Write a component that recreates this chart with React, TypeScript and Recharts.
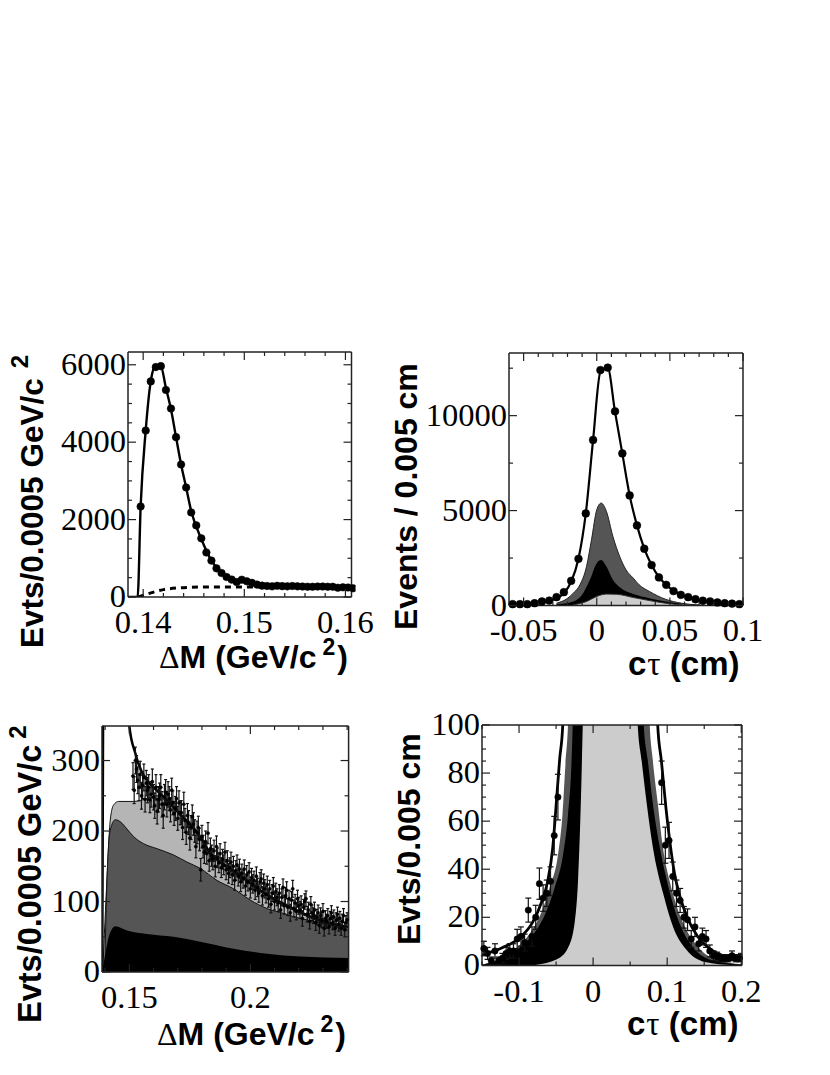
import { ComposedChart, Line, Area, XAxis, YAxis, ErrorBar } from "recharts";

// top left: dM, full range
const aBinValues = [2340, 4300, 5570, 5940, 5965, 5350, 4870, 4130, 3425, 2830, 2185, 1850, 1515, 1150, 940, 740, 620, 516, 450, 387, 447, 405, 365, 320, 293, 285, 275, 290, 280, 275, 285, 275, 270, 265, 265, 270, 270, 265, 265, 240, 250, 245, 225];
const aFitX = [0.1385, 0.13945, 0.13975, 0.14025, 0.14075, 0.14125, 0.14175, 0.14225, 0.14275, 0.14325, 0.14375, 0.14425, 0.14475, 0.14575, 0.14675, 0.14775, 0.14875, 0.14975, 0.15075, 0.15175, 0.15375, 0.15575, 0.15775, 0.16, 0.1606];
const aFitY = [0, 0, 2340, 4300, 5570, 5980, 5960, 5400, 4850, 4130, 3425, 2830, 2220, 1500, 940, 620, 470, 400, 340, 300, 285, 280, 270, 260, 250];
const aBgX = [0.1395, 0.1405, 0.142, 0.1433, 0.1447, 0.146, 0.149, 0.1517, 0.16];
const aBgY = [0, 86, 190, 232, 250, 258, 258, 258, 240];
const aTicksX = [0.14, 0.142, 0.144, 0.146, 0.148, 0.15, 0.152, 0.154, 0.156, 0.158, 0.16];
const aMajorX = [0.14, 0.15, 0.16];
const aTicksY = [0, 500, 1000, 1500, 2000, 2500, 3000, 3500, 4000, 4500, 5000, 5500, 6000];
const aMajorY = [0, 2000, 4000, 6000];

// top right: c tau, full range
const bBinValues = [70, 70, 70, 120, 210, 260, 440, 700, 1300, 2460, 4850, 8720, 12400, 12530, 10230, 8010, 5800, 4220, 2990, 2130, 1480, 1090, 760, 560, 440, 330, 250, 210, 160, 120, 100, 70];
const bFitY = [60, 70, 80, 110, 160, 250, 380, 650, 1250, 2460, 4850, 8720, 12300, 12500, 10200, 8000, 5800, 4220, 3000, 2130, 1500, 1090, 780, 580, 430, 330, 250, 190, 150, 110, 90, 70];
const bDarkX = [-0.0275, -0.0205, -0.016, -0.0115, -0.007, -0.0036, 0, 0.003, 0.0066, 0.011, 0.0157, 0.02, 0.025, 0.029, 0.036, 0.047, 0.058, 0.07];
const bDarkY = [120, 350, 650, 1090, 2050, 3460, 5040, 5395, 4960, 3650, 2580, 1880, 1440, 1090, 740, 330, 120, 30];
const bBlackX = [-0.0275, -0.016, -0.0093, -0.0047, 0, 0.003, 0.0066, 0.011, 0.0157, 0.025, 0.036, 0.047, 0.058];
const bBlackY = [60, 210, 650, 1350, 2230, 2400, 2050, 1350, 960, 600, 380, 210, 90];
const bLightX = [-0.016, -0.007, 0, 0.0066, 0.0134, 0.025, 0.036, 0.047, 0.058];
const bLightY = [35, 210, 480, 600, 590, 420, 260, 120, 35];
const bTicksX = [-0.05, -0.04, -0.03, -0.02, -0.01, 0, 0.01, 0.02, 0.03, 0.04, 0.05, 0.06, 0.07, 0.08, 0.09, 0.1];
const bMajorX = [-0.05, 0, 0.05, 0.1];
const bTicksY = [0, 2500, 5000, 7500, 10000, 12500];
const bMajorY = [0, 5000, 10000];

// bottom left: dM, zoomed on the tail
const cPoints = [
  278, 258, 300, 288, 272, 262, 280, 250, 265, 276,
  245, 268, 258, 262, 244, 252, 270, 248, 236, 262,
  228, 245, 250, 262, 238, 222, 248, 255, 238, 252,
  246, 230, 258, 240, 225, 232, 246, 218, 240, 226,
  226, 205, 238, 215, 198, 222, 212, 190, 205, 220,
  210, 200, 178, 198, 205, 188, 145, 192, 178, 170,
  185, 168, 197, 158, 175, 165, 160, 172, 150, 178,
  162, 155, 168, 148, 160, 152, 170, 145, 158, 140,
  148, 156, 138, 150, 130, 144, 152, 136, 146, 128,
  140, 132, 146, 122, 138, 128, 142, 118, 134, 125,
  130, 116, 136, 120, 112, 128, 132, 108, 126, 118,
  110, 124, 104, 118, 96, 112, 122, 100, 114, 106,
  98, 112, 88, 106, 120, 94, 108, 116, 92, 104,
  84, 102, 118, 90, 98, 86, 104, 94, 88, 96,
  76, 92, 100, 104, 82, 88, 72, 96, 84, 80,
  88, 70, 78, 84, 66, 80, 74, 86, 62, 76,
  72, 80, 64, 76, 84, 70, 78, 62, 74, 82,
  68, 76, 62, 72, 80, 60, 70, 74,
];
const cErrByRow = [19, 18, 18, 17, 17, 16, 15, 14, 14, 13, 13, 12, 12, 12, 11, 11, 10, 10];
const cFitX = [0.1388, 0.1392, 0.142, 0.1475, 0.15, 0.1525, 0.155, 0.1573, 0.16, 0.1628, 0.171, 0.1793, 0.1835, 0.1876, 0.1959, 0.2041, 0.2124, 0.2207, 0.229, 0.2405];
const cFitY = [0, 420, 6000, 600, 349, 310, 285, 272, 262, 253, 224, 192, 168, 156, 137, 116, 99, 85, 73, 64];
const cLightX = [0.139, 0.1408, 0.1421, 0.1435, 0.1456, 0.1518, 0.1573, 0.1614, 0.1656, 0.171, 0.1793, 0.1835, 0.1876, 0.1959, 0.2041, 0.2124, 0.2207, 0.229, 0.2405];
const cLightY = [0, 135, 215, 237, 242, 242, 246, 250, 240, 222, 190, 166, 154, 135, 114, 97, 83, 71, 62];
const cDarkX = [0.1398, 0.1408, 0.1421, 0.1442, 0.1463, 0.149, 0.1518, 0.1559, 0.1614, 0.1683, 0.1738, 0.1793, 0.1862, 0.1931, 0.2, 0.2069, 0.2138, 0.2207, 0.2276, 0.2405];
const cDarkY = [0, 135, 201, 216, 213, 203, 192, 182, 175, 166, 156, 147, 130, 118, 102, 90, 83, 76, 71, 59];
const cBlackX = [0.1387, 0.1401, 0.1415, 0.1442, 0.149, 0.1573, 0.1683, 0.1793, 0.1931, 0.2069, 0.2207, 0.2405];
const cBlackY = [0, 26, 50, 65, 59, 54, 50, 43, 33, 26, 22, 20];
const cTicksX = [0.14, 0.15, 0.16, 0.17, 0.18, 0.19, 0.2, 0.21, 0.22, 0.23, 0.24];
const cMajorX = [0.15, 0.2];
const cTicksY = [0, 50, 100, 150, 200, 250, 300];
const cMajorY = [0, 100, 200, 300];

// bottom right: c tau, zoomed on the tails
const dLeftX = [-0.1475, -0.1425, -0.1375, -0.1325, -0.1275, -0.1225, -0.1175, -0.1125, -0.1075, -0.1025, -0.0975, -0.0925, -0.0875, -0.0825, -0.0775, -0.0725, -0.0675, -0.0625, -0.0575, -0.0525, -0.0475];
const dLeftY = [7, 5, 2, 6, 2, 3, 5, 6, 6, 11, 12, 9.5, 23, 12, 20, 34, 28, 30, 35, 54, 70];
const dLeftErr = [3, 2.5, 1.5, 3, 1.5, 2, 2.5, 3, 3, 4, 4, 3.5, 5, 4, 5, 6.5, 5.5, 5.5, 6, 8, 9.5];
const dRightX = [0.0925, 0.0975, 0.1025, 0.1075, 0.1125, 0.1175, 0.1225, 0.1275, 0.1325, 0.1375, 0.1425, 0.1475, 0.1525, 0.1575, 0.1625, 0.1675, 0.1725, 0.1775, 0.1825, 0.1875, 0.1925, 0.1975];
const dRightY = [76, 50, 52, 37, 30, 27, 20, 19, 11, 16, 9, 12, 11, 6, 4, 3.5, 3, 3, 3, 4, 3, 3];
const dRightErr = [9, 7.5, 7.5, 6, 5.5, 5, 4.5, 4.5, 3.5, 4, 3, 3.5, 3.5, 2.5, 2, 2, 1.5, 1.5, 1.5, 2, 1.5, 1.5];
const dFitX = [-0.15, -0.122, -0.0991, -0.0815, -0.0694, -0.0613, -0.0545, -0.0491, -0.0451, -0.041, -0.03, 0.0, 0.07, 0.0872, 0.0922, 0.0985, 0.1034, 0.11, 0.1169, 0.1277, 0.1412, 0.1574, 0.1803, 0.201];
const dFitY = [4.4, 7.4, 11.5, 18, 26.5, 35, 49, 70, 86, 100, 400, 12000, 400, 100, 85, 65, 52, 38, 29, 19.5, 12, 7, 3.5, 2];
const dDarkX = [-0.15, -0.127, -0.102, -0.085, -0.0698, -0.0586, -0.0474, -0.0414, -0.0374, -0.0339, -0.02, 0.0, 0.06, 0.0764, 0.0805, 0.0872, 0.094, 0.1034, 0.117, 0.137, 0.165, 0.201];
const dDarkY = [0.4, 2.5, 7.6, 13.5, 22, 32.4, 46, 62.7, 83.5, 100, 400, 4000, 400, 100, 85.6, 67.7, 49.5, 35, 21, 9.5, 2.5, 0.5];
const dBlackX = [-0.1493, -0.1261, -0.0991, -0.0811, -0.0653, -0.0518, -0.0406, -0.0339, -0.0293, -0.0275, -0.012, 0.02, 0.055, 0.0683, 0.0737, 0.0805, 0.0899, 0.099, 0.1125, 0.13, 0.16, 0.201];
const dBlackY = [0.3, 2.4, 7.4, 12.8, 21, 32.4, 46, 62.7, 83.5, 100, 400, 2000, 400, 100, 85.6, 67.7, 49.4, 36, 21, 9.5, 2.2, 0.3];
const dLightX = [-0.0766, -0.0495, -0.0339, -0.0248, -0.0204, -0.0158, -0.014, -0.004, 0.02, 0.05, 0.0602, 0.0656, 0.0725, 0.0805, 0.0945, 0.108, 0.126, 0.151, 0.189];
const dLightY = [0.3, 2.4, 7.3, 18, 35, 76.5, 100, 300, 1000, 300, 100, 85, 67, 49.5, 30, 16, 6.5, 1.4, 0.1];
const dTicksX = [-0.15, -0.1, -0.05, 0, 0.05, 0.1, 0.15, 0.2];
const dMajorX = [-0.1, 0, 0.1, 0.2];
const dTicksY = [0, 5, 10, 15, 20, 25, 30, 35, 40, 45, 50, 55, 60, 65, 70, 75, 80, 85, 90, 95, 100];
const dMajorY = [0, 20, 40, 60, 80, 100];

const SERIF = "'Liberation Serif', serif";
const SANS = "'Liberation Sans', Arial, sans-serif";
const L = 100;
const T = 20;
const R = 50;
const B = 50;

// joins the series into one table, sorted on x, as the chart needs a single data array
function table(series: Record<string, [number[], number[]]>) {
  const rows = new Map<string, any>();
  for (const key of Object.keys(series)) {
    const [xs, ys] = series[key];
    xs.forEach((x, i) => {
      const id = x.toFixed(5);
      if (!rows.has(id)) rows.set(id, { x });
      rows.get(id)[key] = ys[i];
    });
  }
  return [...rows.values()].sort((a, b) => a.x - b.x);
}

const tickX = (major: number[], side: "top" | "bottom", dy: number) => (p: any) => {
  const isMajor = major.includes(p.payload.value);
  const len = isMajor ? 8 : 4;
  const dir = side === "bottom" ? -1 : 1;
  return (
    <g>
      <line x1={p.x} x2={p.x} y1={p.y} y2={p.y + dir * len} stroke="#222" strokeWidth={1.2} />
      {side === "bottom" && isMajor && (
        <text x={p.x} y={p.y + dy} textAnchor="middle" fontFamily={SERIF} fontSize={32.5} fill="#000">
          {p.payload.value}
        </text>
      )}
    </g>
  );
};

const tickY = (major: number[], side: "left" | "right") => (p: any) => {
  const isMajor = major.includes(p.payload.value);
  const len = isMajor ? 8 : 4;
  const dir = side === "left" ? 1 : -1;
  return (
    <g>
      <line y1={p.y} y2={p.y} x1={p.x} x2={p.x + dir * len} stroke="#222" strokeWidth={1.2} />
      {side === "left" && isMajor && (
        <text x={p.x - 2} y={p.y + 10} textAnchor="end" fontFamily={SERIF} fontSize={32.5} fill="#000">
          {p.payload.value}
        </text>
      )}
    </g>
  );
};

function Panel(props: any) {
  const { box, data, domainX, domainY, ticksX, majorX, ticksY, majorY, labelDy, children } = props;
  const [x0, x1, y0, y1] = box;
  const axis = { stroke: "#222", strokeWidth: 1.5 };
  return (
    <div style={{ position: "absolute", left: x0 - L, top: y0 - T }}>
      <ComposedChart
        width={L + (x1 - x0) + R}
        height={T + (y1 - y0) + B}
        data={data}
        margin={{ top: T - 1, right: R - 1, left: 0, bottom: 0 }}
      >
        <XAxis dataKey="x" type="number" scale="linear" domain={domainX} allowDataOverflow ticks={ticksX} interval={0} height={B} tickSize={0} tickMargin={0} tickLine={false} axisLine={axis} tick={tickX(majorX, "bottom", labelDy)} />
        <XAxis xAxisId="top" orientation="top" dataKey="x" type="number" scale="linear" domain={domainX} allowDataOverflow ticks={ticksX} interval={0} height={1} tickSize={0} tickMargin={0} tickLine={false} axisLine={axis} tick={tickX(majorX, "top", 0)} />
        <YAxis type="number" domain={domainY} allowDataOverflow ticks={ticksY} interval={0} width={L} tickSize={0} tickMargin={0} tickLine={false} axisLine={axis} tick={tickY(majorY, "left")} />
        <YAxis yAxisId="right" orientation="right" type="number" domain={domainY} allowDataOverflow ticks={ticksY} interval={0} width={1} tickSize={0} tickMargin={0} tickLine={false} axisLine={axis} tick={tickY(majorY, "right")} />
        {children}
      </ComposedChart>
    </div>
  );
}

const fill = (key: string, color: string, stroke: string | number = "none") => (
  <Area dataKey={key} type="monotone" connectNulls fill={color} fillOpacity={1} stroke={stroke as string} strokeWidth={1} dot={false} activeDot={false} isAnimationActive={false} />
);
const curve = (key: string, width: number, dash?: string) => (
  <Line dataKey={key} type="monotone" connectNulls stroke="#000" strokeWidth={width} strokeDasharray={dash} dot={false} activeDot={false} isAnimationActive={false} />
);
const points = (key: string, r: number, errKey?: string, cap = 4) => (
  <Line dataKey={key} stroke="none" dot={{ r, fill: "#000", stroke: "#000", strokeWidth: 0.5, clipDot: false } as any} activeDot={false} isAnimationActive={false}>
    {errKey ? <ErrorBar dataKey={errKey} direction="y" width={cap} stroke="#111" strokeWidth={1.2} isAnimationActive={false} /> : null}
  </Line>
);

function Titles() {
  const bold = { fontFamily: SANS, fontWeight: 700, fill: "#000" } as const;
  const greek = { fontFamily: SERIF, fontWeight: 400 } as const;
  return (
    <svg width={830} height={1075} style={{ position: "absolute", left: 0, top: 0, pointerEvents: "none" }}>
      <text x={43} y={648} transform="rotate(-90 43 648)" fontSize={31.5} {...bold}>
        Evts/0.0005 GeV/c<tspan dx={10} dy={-15} fontSize={24}>2</tspan>
      </text>
      <text x={159} y={668} fontSize={32} {...bold}>
        <tspan {...greek}>Δ</tspan>M (GeV/c<tspan dx={6} dy={-13} fontSize={23}>2</tspan><tspan dx={2} dy={13}>)</tspan>
      </text>
      <text x={417} y={630} transform="rotate(-90 417 630)" fontSize={32} {...bold}>Events / 0.005 cm</text>
      <text x={628} y={675} fontSize={33} {...bold}>
        c<tspan dx={1} {...greek}>τ</tspan> (cm)
      </text>
      <text x={41} y={1023} transform="rotate(-90 41 1023)" fontSize={32.5} {...bold}>
        Evts/0.0005 GeV/c<tspan dx={6} dy={-15} fontSize={24}>2</tspan>
      </text>
      <text x={157} y={1045} fontSize={32} {...bold}>
        <tspan {...greek}>Δ</tspan>M (GeV/c<tspan dx={6} dy={-13} fontSize={23}>2</tspan><tspan dx={2} dy={13}>)</tspan>
      </text>
      <text x={420} y={945} transform="rotate(-90 420 945)" fontSize={32} {...bold}>Evts/0.005 cm</text>
      <text x={627} y={1035} fontSize={33} {...bold}>
        c<tspan dx={1} {...greek}>τ</tspan> (cm)
      </text>
    </svg>
  );
}

export default function App() {
  const aBinX = aBinValues.map((_, i) => 0.13975 + i * 0.0005);
  const bBinX = bBinValues.map((_, i) => -0.0575 + i * 0.005);
  const cPointX = cPoints.map((_, i) => 0.1515 + i * 0.0005);
  const cErr = cPoints.map((_, i) => cErrByRow[Math.floor(i / 10)]);

  const aData = table({ pts: [aBinX, aBinValues], fit: [aFitX, aFitY], bg: [aBgX, aBgY] });
  const bData = table({ pts: [bBinX, bBinValues], fit: [bBinX, bFitY], dark: [bDarkX, bDarkY], black: [bBlackX, bBlackY], light: [bLightX, bLightY] });
  const cData = table({ pts: [cPointX, cPoints], err: [cPointX, cErr], fit: [cFitX, cFitY], light: [cLightX, cLightY], dark: [cDarkX, cDarkY], black: [cBlackX, cBlackY] });
  const dData = table({
    pts: [[...dLeftX, ...dRightX], [...dLeftY, ...dRightY]],
    err: [[...dLeftX, ...dRightX], [...dLeftErr, ...dRightErr]],
    fit: [dFitX, dFitY],
    dark: [dDarkX, dDarkY],
    black: [dBlackX, dBlackY],
    light: [dLightX, dLightY],
  });

  return (
    <div style={{ position: "absolute", left: 0, top: 0, width: 830, height: 1075, background: "#fff" }}>
      <Panel box={[127.5, 351, 352, 597]} data={aData} domainX={[0.1385, 0.1606]} domainY={[0, 6330]} ticksX={aTicksX} majorX={aMajorX} ticksY={aTicksY} majorY={aMajorY} labelDy={36}>
        {curve("bg", 3, "6 5")}
        {curve("fit", 2.4)}
        {points("pts", 3.8)}
      </Panel>
      <Panel box={[509, 743, 353, 605.5]} data={bData} domainX={[-0.06, 0.1]} domainY={[0, 13300]} ticksX={bTicksX} majorX={bMajorX} ticksY={bTicksY} majorY={bMajorY} labelDy={35}>
        {fill("dark", "#555555", "#222")}
        {fill("black", "#000000")}
        {fill("light", "#cccccc", "#333")}
        {curve("fit", 2.2)}
        {points("pts", 3.9)}
      </Panel>
      <Panel box={[101.7, 348.3, 725.7, 971.7]} data={cData} domainX={[0.1387, 0.2406]} domainY={[0, 349]} ticksX={cTicksX} majorX={cMajorX} ticksY={cTicksY} majorY={cMajorY} labelDy={36}>
        {fill("light", "#b5b5b5", "#111")}
        {fill("dark", "#555555", "#111")}
        {fill("black", "#000000")}
        {curve("fit", 2.5)}
        {points("pts", 1.6, "err", 1.5)}
      </Panel>
      <Panel box={[482.3, 742.3, 725.3, 965.7]} data={dData} domainX={[-0.15, 0.201]} domainY={[0, 100]} ticksX={dTicksX} majorX={dMajorX} ticksY={dTicksY} majorY={dMajorY} labelDy={37}>
        {fill("dark", "#555555")}
        {fill("black", "#000000")}
        {fill("light", "#cccccc")}
        {curve("fit", 2.8)}
        {points("pts", 3.2, "err", 3)}
      </Panel>
      <Titles />
    </div>
  );
}
